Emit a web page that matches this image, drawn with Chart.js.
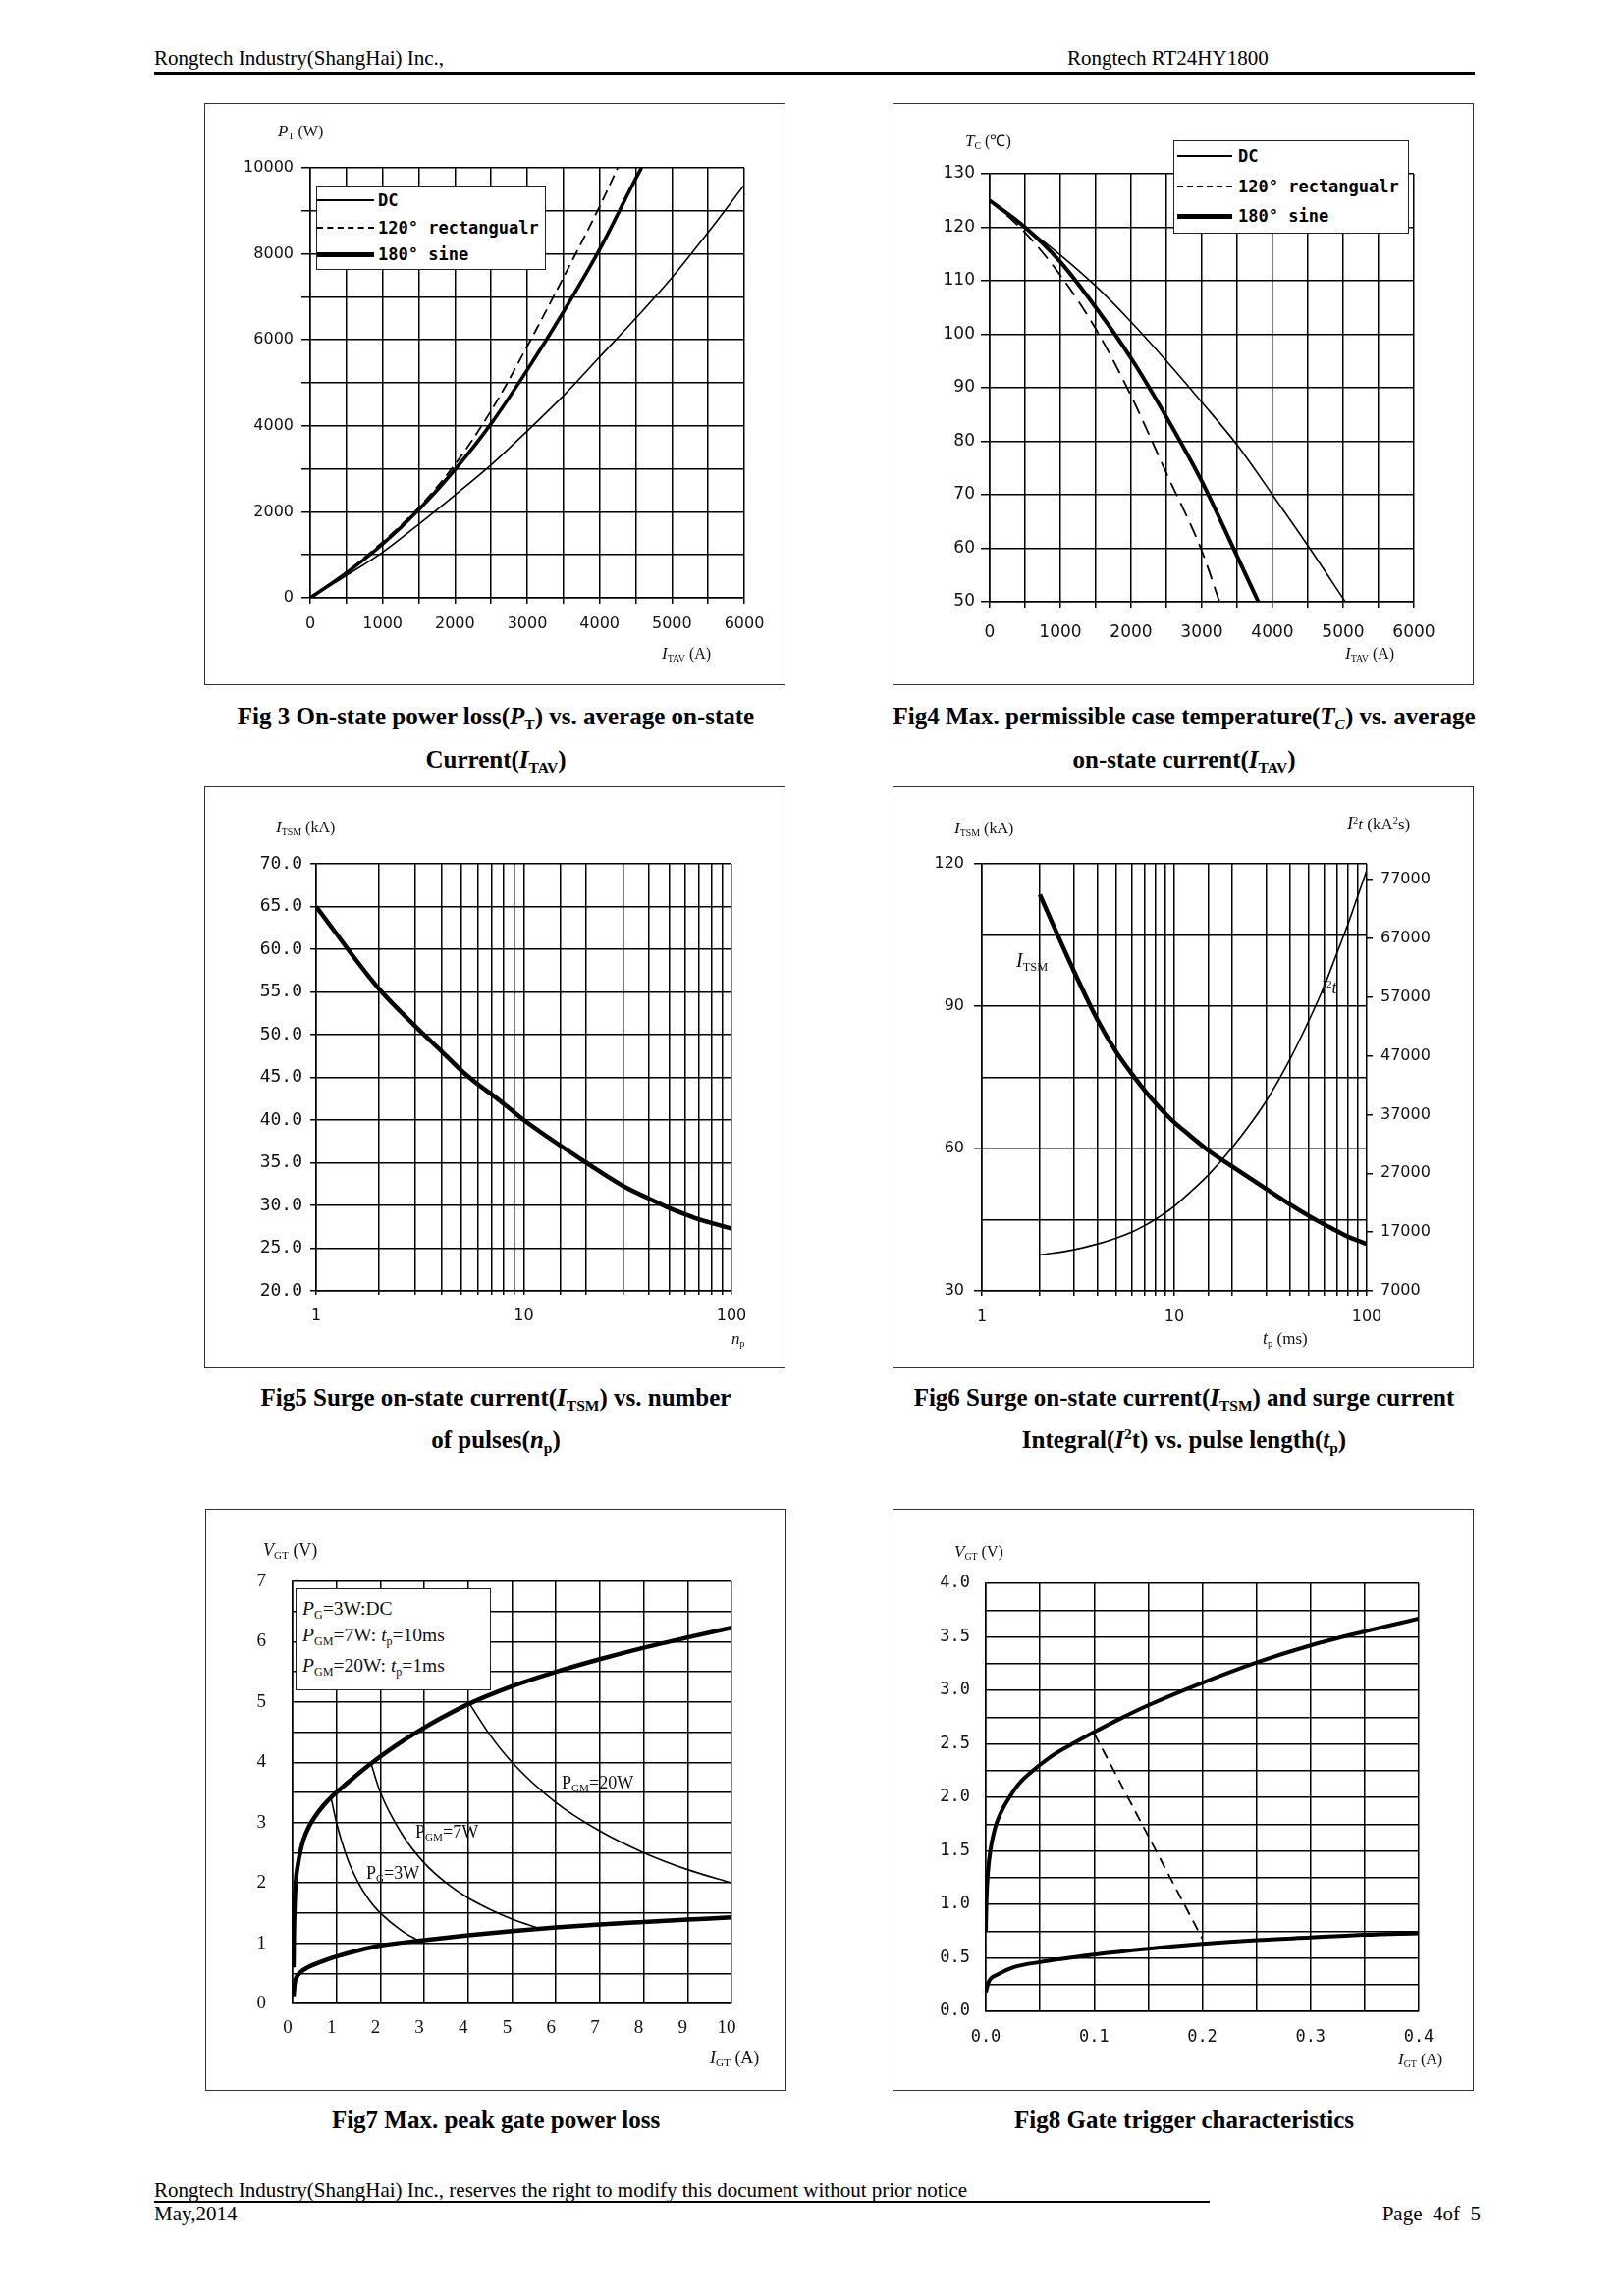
<!DOCTYPE html>
<html><head><meta charset="utf-8">
<script src="https://cdn.jsdelivr.net/npm/chart.js@4.4.0/dist/chart.umd.min.js"></script>
<style>
html,body{margin:0;padding:0;background:#fff}
#page{position:relative;width:1654px;height:2339px;background:#fff;overflow:hidden;font-family:"Liberation Serif",serif;color:#000}
.t{position:absolute;white-space:nowrap;line-height:1}
.frame{position:absolute;border:1.5px solid #333;box-sizing:border-box}
canvas{position:absolute}
.cap{position:absolute;width:800px;text-align:center;font-weight:bold;font-size:25px;white-space:nowrap;line-height:1}
.ax{position:absolute;white-space:nowrap;line-height:1;font-size:16px;color:#111}
sub{font-size:0.62em;vertical-align:-0.3em;line-height:0}
sup{font-size:0.62em;vertical-align:0.55em;line-height:0}
.leg{position:absolute;border:1.5px solid #222;background:#fff;box-sizing:border-box}
.row{position:absolute;display:flex;align-items:center;height:20px;white-space:nowrap}
.smp{display:inline-block;height:0}
.lt{font-family:"DejaVu Sans Mono",monospace;font-weight:bold;font-size:17px;line-height:1}
</style></head>
<body>
<div id="page">
<!-- header -->
<div class="t" style="left:157px;top:49px;font-size:21px">Rongtech Industry(ShangHai) Inc.,</div>
<div class="t" style="left:1087px;top:49px;font-size:21px">Rongtech RT24HY1800</div>
<div style="position:absolute;left:157px;top:73px;width:1345px;height:3px;background:#000"></div>

<!-- frames -->
<div class="frame" style="left:208px;top:105px;width:592px;height:593px"></div>
<div class="frame" style="left:909px;top:105px;width:592px;height:593px"></div>
<div class="frame" style="left:208px;top:801px;width:592px;height:593px"></div>
<div class="frame" style="left:909px;top:801px;width:592px;height:593px"></div>
<div class="frame" style="left:209px;top:1537px;width:592px;height:593px"></div>
<div class="frame" style="left:909px;top:1537px;width:592px;height:593px"></div>

<canvas id="c3"></canvas><canvas id="c4"></canvas>
<canvas id="c5"></canvas><canvas id="c6"></canvas>
<canvas id="c7"></canvas><canvas id="c8"></canvas>

<!-- Fig3 overlays -->
<div class="ax" style="left:283px;top:125px"><i style="font-size:17px">P</i><sub>T</sub> (W)</div>
<div class="ax" style="left:674px;top:657px"><i style="font-size:17px">I</i><sub>TAV</sub> (A)</div>
<div class="leg" style="left:322px;top:189px;width:234px;height:86px"></div>
<div class="row" style="left:323px;top:194px"><span class="smp" style="width:58px;border-top:2px solid #000"></span><span class="lt" style="margin-left:4px">DC</span></div>
<div class="row" style="left:323px;top:222px"><span class="smp" style="width:58px;border-top:2px dashed #000"></span><span class="lt" style="margin-left:4px">120° rectangualr</span></div>
<div class="row" style="left:323px;top:249px"><span class="smp" style="width:58px;border-top:5px solid #000"></span><span class="lt" style="margin-left:4px">180° sine</span></div>

<!-- Fig4 overlays -->
<div class="ax" style="left:983px;top:135px"><i style="font-size:17px">T</i><sub>C</sub> (℃)</div>
<div class="ax" style="left:1370px;top:657px"><i style="font-size:17px">I</i><sub>TAV</sub> (A)</div>
<div class="leg" style="left:1195px;top:143px;width:240px;height:95px"></div>
<div class="row" style="left:1199px;top:149px"><span class="smp" style="width:56px;border-top:2px solid #000"></span><span class="lt" style="margin-left:6px">DC</span></div>
<div class="row" style="left:1199px;top:180px"><span class="smp" style="width:56px;border-top:2px dashed #000"></span><span class="lt" style="margin-left:6px">120° rectangualr</span></div>
<div class="row" style="left:1199px;top:210px"><span class="smp" style="width:56px;border-top:5px solid #000"></span><span class="lt" style="margin-left:6px">180° sine</span></div>

<!-- Fig5 overlays -->
<div class="ax" style="left:281px;top:834px"><i style="font-size:17px">I</i><sub>TSM</sub> (kA)</div>
<div class="ax" style="left:745px;top:1355px"><i style="font-size:17px">n</i><sub>p</sub></div>

<!-- Fig6 overlays -->
<div class="ax" style="left:972px;top:835px"><i style="font-size:17px">I</i><sub>TSM</sub> (kA)</div>
<div class="ax" style="left:1372px;top:830px;font-size:17px"><i style="font-size:18px">I</i><sup>2</sup><i>t</i> (kA<sup>2</sup>s)</div>
<div class="ax" style="left:1286px;top:1354px;font-size:17px"><i style="font-size:18px">t</i><sub>p</sub> (ms)</div>
<div class="ax" style="left:1035px;top:968px;font-size:20px"><i>I</i><sub>TSM</sub></div>
<div class="ax" style="left:1345px;top:997px;font-size:18px"><i>I</i><sup>2</sup><i>t</i></div>

<!-- Fig7 overlays -->
<div class="ax" style="left:268px;top:1570px;font-size:18px"><i>V</i><sub>GT</sub> (V)</div>
<div class="ax" style="left:723px;top:2087px;font-size:18px"><i>I</i><sub>GT</sub> (A)</div>
<div class="leg" style="left:301px;top:1618px;width:199px;height:104px"></div>
<div class="ax" style="left:308px;top:1629px;font-size:19.5px"><i>P</i><sub>G</sub>=3W:DC</div>
<div class="ax" style="left:308px;top:1656px;font-size:19.5px"><i>P</i><sub>GM</sub>=7W: <i>t</i><sub>p</sub>=10ms</div>
<div class="ax" style="left:308px;top:1687px;font-size:19.5px"><i>P</i><sub>GM</sub>=20W: <i>t</i><sub>p</sub>=1ms</div>
<div class="ax" style="left:572px;top:1807px;font-size:18px">P<sub>GM</sub>=20W</div>
<div class="ax" style="left:423px;top:1857px;font-size:18px">P<sub>GM</sub>=7W</div>
<div class="ax" style="left:373px;top:1899px;font-size:18px">P<sub>G</sub>=3W</div>

<!-- Fig8 overlays -->
<div class="ax" style="left:972px;top:1572px"><i style="font-size:17px">V</i><sub>GT</sub> (V)</div>
<div class="ax" style="left:1424px;top:2089px"><i style="font-size:17px">I</i><sub>GT</sub> (A)</div>

<!-- captions -->
<div class="cap" style="left:105px;top:717px">Fig 3 On-state power loss(<i>P</i><sub>T</sub>) vs. average on-state</div>
<div class="cap" style="left:105px;top:761px">Current(<i>I</i><sub>TAV</sub>)</div>
<div class="cap" style="left:806px;top:717px">Fig4 Max. permissible case temperature(<i>T</i><sub><i>C</i></sub>) vs. average</div>
<div class="cap" style="left:806px;top:761px">on-state current(<i>I</i><sub>TAV</sub>)</div>
<div class="cap" style="left:105px;top:1411px">Fig5 Surge on-state current(<i>I</i><sub>TSM</sub>) vs. number</div>
<div class="cap" style="left:105px;top:1454px">of pulses(<i>n</i><sub>p</sub>)</div>
<div class="cap" style="left:806px;top:1411px">Fig6 Surge on-state current(<i>I</i><sub>TSM</sub>) and surge current</div>
<div class="cap" style="left:806px;top:1454px">Integral(<i>I</i><sup>2</sup>t) vs. pulse length(<i>t</i><sub>p</sub>)</div>
<div class="cap" style="left:105px;top:2147px">Fig7 Max. peak gate power loss</div>
<div class="cap" style="left:806px;top:2147px">Fig8 Gate trigger characteristics</div>

<!-- footer -->
<div class="t" style="left:157px;top:2221px;font-size:21px">Rongtech Industry(ShangHai) Inc., reserves the right to modify this document without prior notice</div>
<div style="position:absolute;left:157px;top:2242px;width:1075px;height:1.5px;background:#000"></div>
<div class="t" style="left:157px;top:2245px;font-size:21px">May,2014</div>
<div class="t" style="right:146px;top:2245px;font-size:21px">Page&nbsp; 4of&nbsp; 5</div>
</div>

<script>
// ---------------- DATA ----------------
// Fig 3: on-state power loss P_T (W) vs I_TAV (A)
const fig3DC_I   = [0, 500, 1000, 1500, 2000, 2500, 3000, 3500, 4000, 4500, 5000, 5500, 6000];
const fig3DC_P   = [0, 520, 1060, 1710, 2390, 3090, 3880, 4700, 5600, 6500, 7450, 8500, 9600];
const fig3Rect_I = [0, 500, 1000, 1500, 2000, 2500, 3000, 3500, 4000, 4250];
const fig3Rect_P = [0, 600, 1300, 2100, 3100, 4350, 5850, 7450, 9100, 10000];
const fig3Sine_I = [0, 500, 1000, 1500, 2000, 2500, 3000, 3500, 4000, 4500, 4580];
const fig3Sine_P = [0, 580, 1250, 2050, 2980, 4050, 5300, 6650, 8100, 9750, 10000];

// Fig 4: case temperature T_C (°C) vs I_TAV (A)
const fig4DC_I   = [0, 500, 1000, 1500, 2000, 2500, 3000, 3500, 4000, 4500, 5030];
const fig4DC_T   = [125, 120, 114.8, 109, 102.3, 95, 87.3, 79.3, 70, 60.5, 50];
const fig4Rect_I = [0, 500, 1000, 1500, 2000, 2500, 3000, 3250];
const fig4Rect_T = [125, 119, 111, 101, 88.5, 74, 59.5, 50];
const fig4Sine_I = [0, 500, 1000, 1500, 2000, 2500, 3000, 3500, 3800];
const fig4Sine_T = [125, 120, 113.5, 105, 95.5, 84.5, 72.5, 58.5, 50];

// Fig 5: I_TSM (kA) vs number of pulses
const fig5N    = [1, 2, 3, 4, 5, 6, 7, 8, 9, 10, 20, 30, 40, 50, 60, 70, 80, 90, 100];
const fig5Itsm = [65, 55.4, 51.0, 48.1, 45.8, 44.2, 43.0, 41.9, 40.9, 40, 35, 32.3, 30.8, 29.7, 28.95, 28.35, 27.95, 27.6, 27.3];

// Fig 6: I_TSM (kA) and I2t (kA2s) vs t_p (ms)
const fig6Tp   = [2, 3, 4, 5, 6, 7, 8, 9, 10, 12, 15, 20, 30, 40, 50, 60, 70, 80, 90, 100];
const fig6Itsm = [113.5, 97.5, 87, 80.3, 75.8, 72.3, 69.5, 67.3, 65.5, 62.8, 59.6, 56.2, 51.5, 48.2, 45.8, 44, 42.6, 41.4, 40.6, 39.9];
const fig6I2t  = [13100, 14000, 15000, 16000, 17000, 18100, 19200, 20300, 21400, 23700, 26700, 31400, 39300, 46500, 53000, 58800, 64500, 69500, 74300, 78600];
const fig6RightTicks = [7000, 17000, 27000, 37000, 47000, 57000, 67000, 77000];

// Fig 7: gate voltage V_GT (V) vs gate current I_GT (A)
const fig7MaxI = [0.02, 0.03, 0.04, 0.07, 0.12, 0.17, 0.25, 0.37, 0.5, 0.7, 0.88, 1.0, 1.3, 1.75, 2.3, 2.81, 3.4, 4.05, 5, 6, 7, 8, 9, 10];
const fig7MaxV = [0.6, 1.2, 1.5, 2.0, 2.3, 2.5, 2.72, 2.93, 3.09, 3.28, 3.42, 3.5, 3.69, 3.96, 4.25, 4.49, 4.74, 4.98, 5.26, 5.5, 5.71, 5.9, 6.07, 6.23];
const fig7MinI = [0.02, 0.05, 0.1, 0.2, 0.35, 0.5, 0.75, 1, 1.5, 2, 3, 4, 5, 6, 7, 8, 9, 10];
const fig7MinV = [0.12, 0.35, 0.45, 0.53, 0.6, 0.65, 0.72, 0.78, 0.88, 0.96, 1.05, 1.13, 1.2, 1.26, 1.31, 1.35, 1.39, 1.43];
const fig7P3I  = [0.88, 1.0, 1.25, 1.5, 1.75, 2.0, 2.5, 2.85];
const fig7P3V  = [3.4, 3.0, 2.4, 2.0, 1.71, 1.5, 1.2, 1.05];
const fig7P7I  = [1.8, 2.0, 2.5, 3.0, 3.5, 4.0, 4.5, 5.0, 5.6];
const fig7P7V  = [3.95, 3.5, 2.8, 2.33, 2.0, 1.75, 1.56, 1.4, 1.25];
const fig7P20I = [4.05, 4.5, 5, 6, 7, 8, 9, 10];
const fig7P20V = [4.95, 4.45, 4.0, 3.33, 2.86, 2.5, 2.22, 2.0];

// Fig 8: gate trigger characteristics
const fig8MaxI  = [0, 0.0005, 0.002, 0.005, 0.007, 0.01, 0.015, 0.02, 0.025, 0.03, 0.04, 0.06, 0.08, 0.1, 0.125, 0.15, 0.2, 0.25, 0.3, 0.35, 0.4];
const fig8MaxV  = [0.75, 1.0, 1.3, 1.55, 1.65, 1.76, 1.88, 1.97, 2.05, 2.12, 2.22, 2.38, 2.5, 2.61, 2.74, 2.86, 3.07, 3.26, 3.42, 3.55, 3.67];
const fig8MinI  = [0, 0.0025, 0.005, 0.01, 0.025, 0.05, 0.1, 0.15, 0.2, 0.25, 0.3, 0.35, 0.4];
const fig8MinV  = [0.18, 0.27, 0.31, 0.34, 0.41, 0.46, 0.53, 0.585, 0.63, 0.665, 0.69, 0.715, 0.73];
const fig8DashI = [0.1, 0.2];
const fig8DashV = [2.6, 0.68];

// ---------------- HELPERS ----------------
const INK = '#000';
const LAB = '#111';
function pts(xs, ys) { return xs.map((x, i) => ({ x: x, y: ys[i] })); }
function ds(xs, ys, width, extra) {
  return Object.assign({
    data: pts(xs, ys), borderColor: INK, borderWidth: width, pointRadius: 0,
    fill: false, cubicInterpolationMode: 'monotone', yAxisID: 'y'
  }, extra || {});
}
function grid(tl, extra) {
  return Object.assign({ color: INK, lineWidth: 1.5, tickLength: tl, drawTicks: tl > 0, tickColor: INK, tickWidth: 1.5 }, extra || {});
}
const border = { display: true, color: INK, width: 1.5 };
function font(fam, size) { return { family: fam, size: size }; }

function makeChart(id, F, P, scales, datasets, sz) {
  const cv = document.getElementById(id);
  cv.width = F.w; cv.height = F.h;
  cv.style.left = F.l + 'px'; cv.style.top = F.t + 'px';
  cv.style.width = F.w + 'px'; cv.style.height = F.h + 'px';
  const WY = sz.wy, HX = sz.hx, WR = sz.wr || 0;
  scales.x.afterFit = s => { s.height = HX; };
  scales.y.afterFit = s => { s.width = WY; };
  if (scales.y2) scales.y2.afterFit = s => { s.width = WR; };
  return new Chart(cv, {
    type: 'line',
    data: { datasets: datasets },
    options: {
      responsive: false, animation: false, devicePixelRatio: 1, events: [],
      layout: { padding: {
        left: P.l - F.l - WY, top: P.t - F.t,
        right: (F.l + F.w) - P.r - WR, bottom: (F.t + F.h) - P.b - HX } },
      plugins: { legend: { display: false }, tooltip: { enabled: false } },
      scales: scales
    }
  });
}
const SANS = '"DejaVu Sans", Verdana, sans-serif';
const MONO = '"DejaVu Sans Mono", monospace';
const SERIF = '"Liberation Serif", serif';
const near = (v, m) => Math.abs(v / m - Math.round(v / m)) < 1e-6;

// ---------------- FIG 3 ----------------
makeChart('c3', { l: 208, t: 105, w: 592, h: 593 }, { l: 316, t: 171, r: 758, b: 609 }, {
  x: { type: 'linear', min: 0, max: 6000, border: border, grid: grid(6),
       ticks: { stepSize: 500, autoSkip: false, maxRotation: 0, padding: 11, color: LAB, font: font(SANS, 16),
                callback: v => near(v, 1000) ? String(v) : '' } },
  y: { type: 'linear', min: 0, max: 10000, border: border, grid: grid(9),
       ticks: { stepSize: 1000, autoSkip: false, padding: 8, color: LAB, font: font(SANS, 16),
                callback: v => near(v, 2000) ? String(v) : '' } }
}, [
  ds(fig3DC_I, fig3DC_P, 1.6),
  ds(fig3Rect_I, fig3Rect_P, 1.8, { borderDash: [11, 6] }),
  ds(fig3Sine_I, fig3Sine_P, 3.6)
], { wy: 70, hx: 45 });

// ---------------- FIG 4 ----------------
makeChart('c4', { l: 909, t: 105, w: 592, h: 593 }, { l: 1008, t: 177, r: 1440, b: 613 }, {
  x: { type: 'linear', min: 0, max: 6000, border: border, grid: grid(6),
       ticks: { stepSize: 500, autoSkip: false, maxRotation: 0, padding: 15, color: LAB, font: font(SANS, 17),
                callback: v => near(v, 1000) ? String(v) : '' } },
  y: { type: 'linear', min: 50, max: 130, border: border, grid: grid(9),
       ticks: { stepSize: 10, autoSkip: false, padding: 6, color: LAB, font: font(SANS, 17),
                callback: v => String(v) } }
}, [
  ds(fig4DC_I, fig4DC_T, 1.6),
  ds(fig4Rect_I, fig4Rect_T, 1.8, { borderDash: [15, 8] }),
  ds(fig4Sine_I, fig4Sine_T, 4)
], { wy: 70, hx: 45 });

// ---------------- FIG 5 ----------------
makeChart('c5', { l: 208, t: 801, w: 592, h: 593 }, { l: 322, t: 880, r: 745, b: 1315 }, {
  x: { type: 'logarithmic', min: 1, max: 100, border: border, grid: grid(4),
       ticks: { autoSkip: false, maxRotation: 0, padding: 12, color: LAB, font: font(SANS, 16),
                callback: v => ([1, 10, 100].indexOf(Math.round(v)) >= 0 && near(v, 1)) ? String(Math.round(v)) : '' } },
  y: { type: 'linear', min: 20, max: 70, border: border, grid: grid(6),
       ticks: { stepSize: 5, autoSkip: false, padding: 8, color: LAB, font: font(MONO, 18),
                callback: v => v.toFixed(1) } }
}, [
  ds(fig5N, fig5Itsm, 4.5)
], { wy: 70, hx: 45 });

// ---------------- FIG 6 ----------------
makeChart('c6', { l: 909, t: 801, w: 592, h: 593 }, { l: 1000, t: 880, r: 1392, b: 1315 }, {
  x: { type: 'logarithmic', min: 1, max: 100, border: border, grid: grid(5),
       ticks: { autoSkip: false, maxRotation: 0, padding: 12, color: LAB, font: font(SANS, 16),
                callback: v => ([1, 10, 100].indexOf(Math.round(v)) >= 0 && near(v, 1)) ? String(Math.round(v)) : '' } },
  y: { type: 'linear', position: 'left', min: 30, max: 120, border: border,
       grid: grid(8, { tickColor: c => (c.tick && near(c.tick.value, 30)) ? INK : 'rgba(0,0,0,0)' }),
       ticks: { stepSize: 15, autoSkip: false, padding: 10, color: LAB, font: font(SANS, 16),
                callback: v => near(v, 30) ? String(v) : '' } },
  y2: { type: 'linear', position: 'right', min: 7000, max: 79700,
        border: { display: false }, grid: grid(6, { drawOnChartArea: false }),
        afterBuildTicks: s => { s.ticks = fig6RightTicks.map(v => ({ value: v })); },
        ticks: { autoSkip: false, padding: 8, color: LAB, font: font(SANS, 16), callback: v => String(v) } }
}, [
  ds(fig6Tp, fig6Itsm, 4.5),
  ds(fig6Tp, fig6I2t, 1.6, { yAxisID: 'y2' })
], { wy: 70, hx: 45, wr: 70 });

// ---------------- FIG 7 ----------------
makeChart('c7', { l: 209, t: 1537, w: 592, h: 593 }, { l: 298, t: 1611, r: 745, b: 2041 }, {
  x: { type: 'linear', min: 0, max: 10, border: border, grid: grid(0),
       ticks: { stepSize: 1, autoSkip: false, maxRotation: 0, padding: 14, labelOffset: -5, color: LAB, font: font(SERIF, 19),
                callback: v => String(v) } },
  y: { type: 'linear', min: 0, max: 7, border: border, grid: grid(0),
       ticks: { stepSize: 0.5, autoSkip: false, padding: 27, color: LAB, font: font(SERIF, 19),
                callback: v => near(v, 1) ? String(Math.round(v)) : '' } }
}, [
  ds(fig7MaxI, fig7MaxV, 4.5),
  ds(fig7MinI, fig7MinV, 4.5),
  ds(fig7P3I, fig7P3V, 1.6),
  ds(fig7P7I, fig7P7V, 1.6),
  ds(fig7P20I, fig7P20V, 1.6)
], { wy: 70, hx: 45 });

// ---------------- FIG 8 ----------------
makeChart('c8', { l: 909, t: 1537, w: 592, h: 593 }, { l: 1004, t: 1613, r: 1445, b: 2049 }, {
  x: { type: 'linear', min: 0, max: 0.4, border: border, grid: grid(0),
       ticks: { stepSize: 0.05, autoSkip: false, maxRotation: 0, padding: 16, color: LAB, font: font(MONO, 17),
                callback: v => near(v, 0.1) ? v.toFixed(1) : '' } },
  y: { type: 'linear', min: 0, max: 4, border: border, grid: grid(0),
       ticks: { stepSize: 0.25, autoSkip: false, padding: 16, color: LAB, font: font(MONO, 17),
                callback: v => near(v, 0.5) ? v.toFixed(1) : '' } }
}, [
  ds(fig8MaxI, fig8MaxV, 4),
  ds(fig8MinI, fig8MinV, 4),
  ds(fig8DashI, fig8DashV, 1.8, { borderDash: [11, 7] })
], { wy: 70, hx: 45 });
</script>
</body></html>
